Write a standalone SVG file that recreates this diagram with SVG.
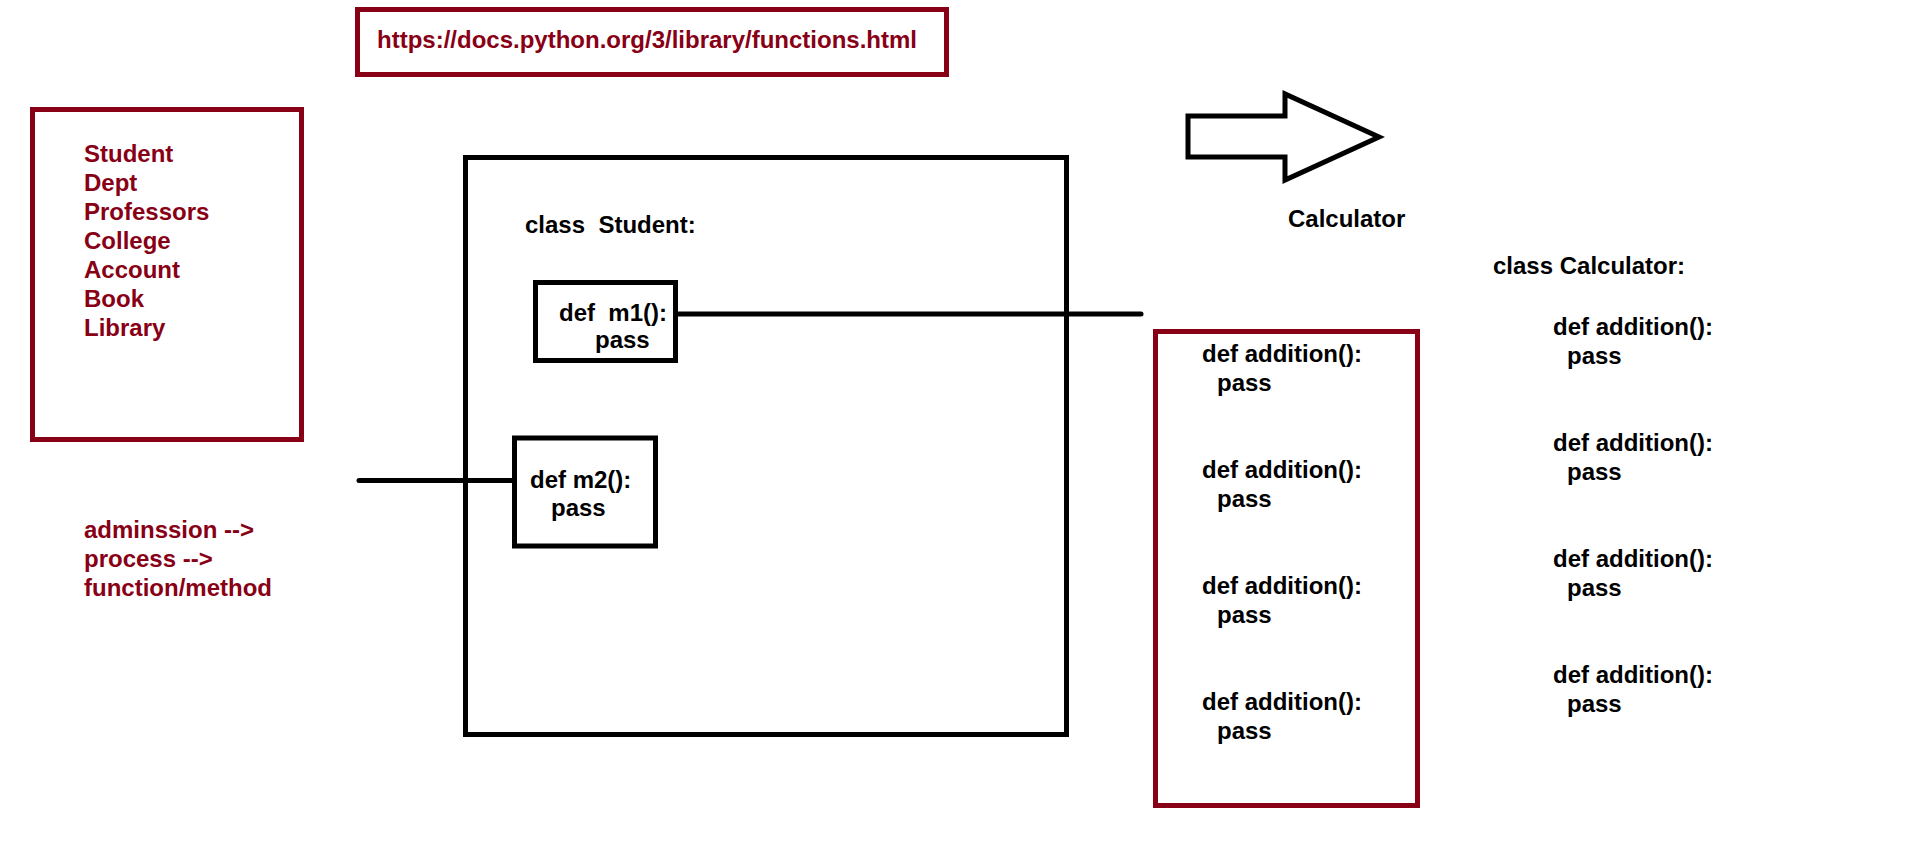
<svg xmlns="http://www.w3.org/2000/svg" width="1914" height="867" viewBox="0 0 1914 867">
<style>
text{font-family:"Liberation Sans",Arial,sans-serif;font-weight:bold;font-size:24px;fill:#000;white-space:pre}
.red{fill:#880015}
.rbox{fill:none;stroke:#880015;stroke-width:5}
.kbox{fill:none;stroke:#000;stroke-width:5}
.conn{stroke:#000;stroke-width:5;stroke-linecap:round;fill:none}
</style>
<rect width="1914" height="867" fill="#fff"/>
<g id="url">
<rect class="rbox" x="357.5" y="9.5" width="589" height="65"/>
<text class="red" x="377" y="48">https://docs.python.org/3/library/functions.html</text>
</g>
<g id="entities">
<rect class="rbox" x="32.5" y="109.5" width="269" height="330"/>
<text class="red" x="84" y="162">Student</text>
<text class="red" x="84" y="191">Dept</text>
<text class="red" x="84" y="220">Professors</text>
<text class="red" x="84" y="249">College</text>
<text class="red" x="84" y="278">Account</text>
<text class="red" x="84" y="307">Book</text>
<text class="red" x="84" y="336">Library</text>
</g>
<g id="notes">
<text class="red" x="84" y="538">adminssion --&gt;</text>
<text class="red" x="84" y="567">process --&gt;</text>
<text class="red" x="84" y="596">function/method</text>
</g>
<g id="student-class">
<rect class="kbox" x="465.5" y="157.5" width="601" height="577"/>
<text x="525" y="233" xml:space="preserve">class  Student:</text>
</g>
<g id="m1">
<rect class="kbox" x="535.5" y="282.5" width="140" height="78" fill="#fff"/>
<text x="559" y="321" xml:space="preserve">def  m1():</text>
<text x="595" y="348">pass</text>
</g>
<g id="m2">
<rect class="kbox" x="514.5" y="438" width="141" height="108" fill="#fff"/>
<text x="530" y="488">def m2():</text>
<text x="551" y="516">pass</text>
</g>
<g id="arrow">
<polygon points="1188,116 1285,116 1285,94 1379,137 1285,180 1285,157 1188,157" fill="none" stroke="#000" stroke-width="5"/>
</g>
<g id="calculator-label">
<text x="1288" y="227">Calculator</text>
</g>
<g id="calc-box">
<rect class="rbox" x="1155.5" y="331.5" width="262" height="474"/>
<text x="1202" y="362">def addition():</text>
<text x="1217" y="391">pass</text>
<text x="1202" y="478">def addition():</text>
<text x="1217" y="507">pass</text>
<text x="1202" y="594">def addition():</text>
<text x="1217" y="623">pass</text>
<text x="1202" y="710">def addition():</text>
<text x="1217" y="739">pass</text>
</g>
<g id="calc-class">
<text x="1493" y="274">class Calculator:</text>
<text x="1553" y="335">def addition():</text>
<text x="1567" y="364">pass</text>
<text x="1553" y="451">def addition():</text>
<text x="1567" y="480">pass</text>
<text x="1553" y="567">def addition():</text>
<text x="1567" y="596">pass</text>
<text x="1553" y="683">def addition():</text>
<text x="1567" y="712">pass</text>
</g>
<g id="connectors">
<line class="conn" x1="678" y1="314" x2="1141" y2="314"/>
<line class="conn" x1="359" y1="480.5" x2="512" y2="480.5"/>
</g>
</svg>
